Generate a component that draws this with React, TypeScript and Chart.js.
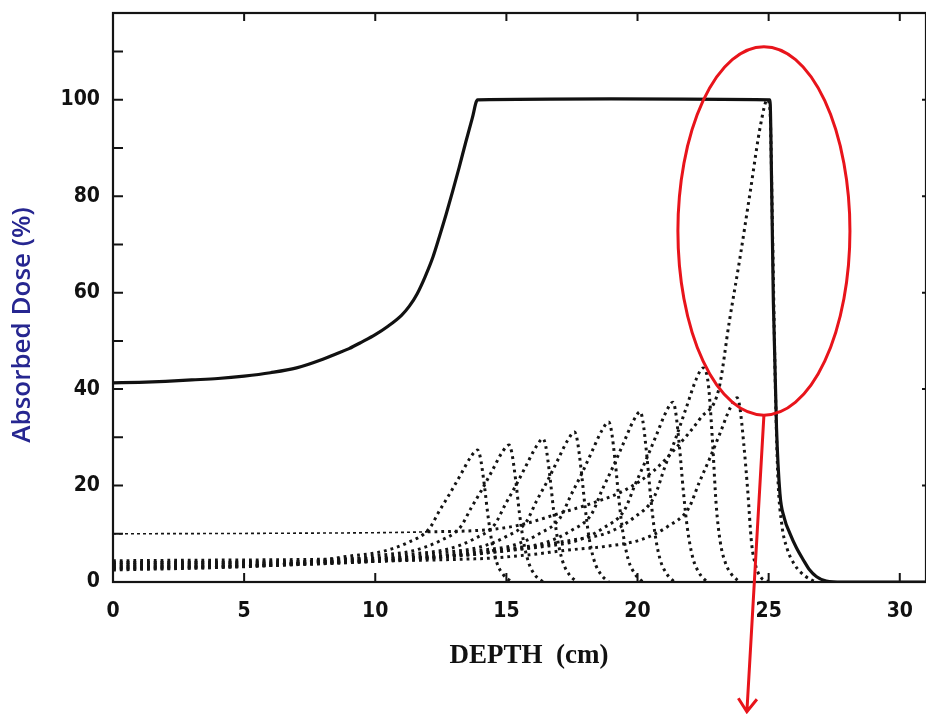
import { useEffect, useRef } from 'react';
import { Chart, registerables } from 'chart.js';

Chart.register(...registerables);

// ---- axis setup ----
const X_MIN = 0;
const X_MAX = 31;
const Y_MIN = 0;
const Y_MAX = 118;
const X_STEP = 5;
const Y_STEP = 20;
const X_TITLE = 'DEPTH  (cm)';
const Y_TITLE = 'Absorbed Dose (%)';

// ---- spread-out Bragg peak (solid line): [depth cm, dose %] ----
const sobp: [number, number][] = [
  [0, 41.3], [1, 41.4], [2, 41.6], [3, 41.9], [4, 42.2], [5, 42.7], [6, 43.4],
  [7, 44.4], [8, 46.2], [8.5, 47.3], [9, 48.4], [9.5, 49.8], [10, 51.3], [10.5, 53.1],
  [11, 55.3], [11.3, 57.2], [11.6, 59.8], [11.9, 63.3], [12.2, 67.4], [12.45, 71.7],
  [12.7, 76.2], [12.95, 81], [13.2, 86], [13.45, 91.2], [13.7, 96.2], [13.9, 100],
  [19, 100.2], [25.05, 100], [25.12, 80], [25.18, 58], [25.3, 32], [25.43, 18.4],
  [25.6, 13.2], [25.81, 10.1], [26.05, 7.2], [26.32, 4.6], [26.55, 2.6], [26.83, 1.1],
  [27.2, 0.2], [27.8, 0], [31, 0],
];

// ---- individual pristine Bragg peaks (dotted) ----
const peak1: [number, number][] = [
  [0, 2.5], [3.9, 3.0], [5.9, 3.5], [7.4, 4.1], [8.9, 5.3], [10.25, 6.3], [11.25, 8.2],
  [12.05, 11.0], [12.45, 14.8], [12.85, 18.4], [13.25, 22.2], [13.65, 26.0], [13.9, 27.4],
  [14.0, 26.0], [14.15, 20.5], [14.3, 13.7], [14.45, 8.2], [14.65, 3.8], [14.9, 1.4], [15.2, 0],
];
const peak2: [number, number][] = [
  [0, 2.7], [5.1, 3.2], [7.1, 3.8], [8.6, 4.5], [10.1, 5.5], [11.45, 6.5], [12.45, 8.5],
  [13.25, 11.4], [13.65, 15.3], [14.05, 19.0], [14.45, 23.0], [14.85, 27.0], [15.1, 28.4],
  [15.2, 27.0], [15.35, 21.3], [15.5, 14.2], [15.65, 8.5], [15.85, 4.0], [16.1, 1.4], [16.4, 0],
];
const peak3: [number, number][] = [
  [0, 2.9], [6.4, 3.5], [8.4, 4.1], [9.9, 4.8], [11.4, 5.8], [12.75, 6.8], [13.75, 8.9],
  [14.55, 11.9], [14.95, 16.0], [15.35, 19.9], [15.75, 24.1], [16.15, 28.2], [16.4, 29.7],
  [16.5, 28.2], [16.65, 22.3], [16.8, 14.9], [16.95, 8.9], [17.15, 4.2], [17.4, 1.5], [17.7, 0],
];
const peak4: [number, number][] = [
  [0, 3.1], [7.6, 3.7], [9.6, 4.3], [11.1, 5.1], [12.6, 6.1], [13.95, 7.2], [14.95, 9.3],
  [15.75, 12.4], [16.15, 16.8], [16.55, 20.8], [16.95, 25.2], [17.35, 29.5], [17.6, 31.1],
  [17.7, 29.5], [17.85, 23.3], [18.0, 15.6], [18.15, 9.3], [18.35, 4.4], [18.6, 1.6], [18.9, 0],
];
const peak5: [number, number][] = [
  [0, 3.3], [8.9, 4.0], [10.9, 4.6], [12.4, 5.4], [13.9, 6.5], [15.25, 7.6], [16.25, 10.0],
  [17.05, 13.3], [17.45, 17.9], [17.85, 22.2], [18.25, 26.9], [18.65, 31.5], [18.9, 33.2],
  [19.0, 31.5], [19.15, 24.9], [19.3, 16.6], [19.45, 10.0], [19.65, 4.6], [19.9, 1.7], [20.2, 0],
];
const peak6: [number, number][] = [
  [0, 3.6], [10.1, 4.3], [12.1, 5.0], [13.6, 5.9], [15.1, 6.9], [16.45, 8.1], [17.45, 10.6],
  [18.25, 14.1], [18.65, 19.1], [19.05, 23.7], [19.45, 28.6], [19.85, 33.5], [20.1, 35.3],
  [20.2, 33.5], [20.35, 26.5], [20.5, 17.7], [20.65, 10.6], [20.85, 4.9], [21.1, 1.8], [21.4, 0],
];
const peak7: [number, number][] = [
  [0, 3.9], [11.35, 4.7], [13.35, 5.5], [14.85, 6.4], [16.35, 7.3], [17.7, 8.6], [18.7, 11.2],
  [19.5, 14.9], [19.9, 20.1], [20.3, 25.0], [20.7, 30.2], [21.1, 35.4], [21.35, 37.3],
  [21.45, 35.4], [21.6, 28.0], [21.75, 18.7], [21.9, 11.2], [22.1, 5.2], [22.35, 1.9], [22.65, 0],
];
const peak8: [number, number][] = [
  [0, 4.4], [12.5, 5.3], [14.5, 6.2], [16.0, 7.3], [17.5, 8.7], [18.85, 10.2], [19.85, 13.3],
  [20.65, 17.8], [21.05, 24.0], [21.45, 29.7], [21.85, 36.0], [22.25, 42.2], [22.5, 44.4],
  [22.7, 41.0], [22.85, 30.0], [23.0, 16.0], [23.15, 8.5], [23.35, 4.0], [23.6, 1.5], [23.9, 0],
];
const peak9: [number, number][] = [
  [0, 4.0], [13.8, 4.8], [15.8, 5.6], [17.3, 6.6], [18.8, 7.4], [20.15, 8.8], [21.15, 11.5],
  [21.95, 15.3], [22.35, 20.6], [22.75, 25.6], [23.15, 30.9], [23.55, 36.3], [23.8, 38.2],
  [23.9, 36.3], [24.05, 28.7], [24.2, 19.1], [24.35, 8.0], [24.5, 3.5], [24.7, 1.0], [25.0, 0],
];
// most distal (deepest, heaviest-weighted) peak
const peak10: [number, number][] = [
  [0, 10.0], [6, 10.1], [12, 10.4], [14.4, 10.9], [15.5, 11.8], [17, 14.2], [18.3, 16.4],
  [19.5, 19.0], [20.6, 23.0], [21.5, 28.0], [22.4, 34.0], [23.1, 40.0], [23.5, 54.0],
  [23.9, 67.0], [24.3, 81.0], [24.7, 95.0], [24.95, 100], [25.05, 98], [25.15, 72],
  [25.25, 42], [25.35, 22], [25.5, 12], [25.7, 7], [26.0, 3.5], [26.4, 1.2], [26.8, 0],
];
const pristinePeaks = [peak1, peak2, peak3, peak4, peak5, peak6, peak7, peak8, peak9];
const THIN_ENTRANCE_END = 12; // the distal peak's entrance plateau is printed finer

// ---- annotation (red ellipse + arrow) in data units ----
const ELLIPSE_CENTER: [number, number] = [24.82, 72.8];
const ELLIPSE_RADII: [number, number] = [3.28, 38.2];
const ARROW_FROM: [number, number] = [24.82, 34.6];
const ARROW_TO: [number, number] = [24.17, -26.9];

const toXY = (pts: [number, number][]) => pts.map(([x, y]) => ({ x, y }));

const TICK_FONT = "'Liberation Sans Narrow', 'DejaVu Sans Condensed', 'Arial Narrow', sans-serif";

const overlayPlugin = {
  id: 'overlay',
  afterDraw(chart: any) {
    const { ctx, chartArea: a, scales } = chart;
    const xs = scales.x;
    const ys = scales.y;
    const px = (v: number) => xs.getPixelForValue(v);
    const py = (v: number) => ys.getPixelForValue(v);
    ctx.save();
    // frame
    ctx.strokeStyle = '#141414';
    ctx.lineWidth = 2.2;
    ctx.strokeRect(a.left, a.top, a.right - a.left, a.bottom - a.top);
    // inward ticks
    ctx.lineWidth = 2;
    ctx.beginPath();
    for (let v = X_STEP; v < X_MAX; v += X_STEP) {
      ctx.moveTo(px(v), a.top);
      ctx.lineTo(px(v), a.top + 8);
      ctx.moveTo(px(v), a.bottom);
      ctx.lineTo(px(v), a.bottom - 9);
    }
    for (let v = 10; v < Y_MAX; v += 10) {
      ctx.moveTo(a.left, py(v));
      ctx.lineTo(a.left + 10, py(v));
    }
    for (let v = Y_STEP; v <= 100; v += Y_STEP) {
      ctx.moveTo(a.right, py(v));
      ctx.lineTo(a.right - 4, py(v));
    }
    ctx.stroke();

    // axis titles
    ctx.fillStyle = '#111';
    ctx.font = "bold 27px 'Liberation Serif', 'DejaVu Serif', serif";
    ctx.textAlign = 'center';
    ctx.textBaseline = 'alphabetic';
    ctx.fillText(X_TITLE, 529, 663);

    ctx.save();
    ctx.translate(23, 325);
    ctx.rotate(-Math.PI / 2);
    ctx.fillStyle = '#262690';
    ctx.font = "600 26px 'Open Sans', 'Noto Sans', sans-serif";
    ctx.textBaseline = 'middle';
    ctx.fillText(Y_TITLE, 0, 0);
    ctx.restore();

    // red annotation
    ctx.strokeStyle = '#e8141b';
    ctx.lineWidth = 3;
    const cx = px(ELLIPSE_CENTER[0]);
    const cy = py(ELLIPSE_CENTER[1]);
    const rx = px(ELLIPSE_CENTER[0] + ELLIPSE_RADII[0]) - cx;
    const ry = cy - py(ELLIPSE_CENTER[1] + ELLIPSE_RADII[1]);
    ctx.beginPath();
    ctx.ellipse(cx, cy, rx, ry, 0, 0, Math.PI * 2);
    ctx.stroke();

    const x0 = px(ARROW_FROM[0]);
    const y0 = py(ARROW_FROM[1]);
    const x1 = px(ARROW_TO[0]);
    const y1 = py(ARROW_TO[1]);
    ctx.beginPath();
    ctx.moveTo(x0, y0);
    ctx.lineTo(x1, y1);
    const ang = Math.atan2(y1 - y0, x1 - x0);
    const head = 16;
    ctx.moveTo(x1 - head * Math.cos(ang - 0.62), y1 - head * Math.sin(ang - 0.62));
    ctx.lineTo(x1, y1);
    ctx.lineTo(x1 - head * Math.cos(ang + 0.62), y1 - head * Math.sin(ang + 0.62));
    ctx.stroke();
    ctx.restore();
  },
};

export default function App() {
  const canvasRef = useRef<HTMLCanvasElement | null>(null);

  useEffect(() => {
    const canvas = canvasRef.current;
    if (!canvas) return;

    const DOT_W = 3;
    const DOT_DASH = [2.8, 4];
    const dotted = {
      borderColor: '#141414',
      borderWidth: DOT_W,
      borderDash: DOT_DASH,
      pointRadius: 0,
      fill: false,
      cubicInterpolationMode: 'monotone' as const,
    };

    const datasets: any[] = [
      ...pristinePeaks.map((p, i) => ({ ...dotted, label: `Peak ${i + 1}`, data: toXY(p) })),
      {
        ...dotted,
        label: 'Peak 10',
        data: toXY(peak10),
        segment: {
          borderWidth: (c: any) => (c.p1.parsed.x <= THIN_ENTRANCE_END ? 1.6 : DOT_W),
          borderDash: (c: any) => (c.p1.parsed.x <= THIN_ENTRANCE_END ? [3, 3] : DOT_DASH),
        },
      },
      {
        label: 'SOBP',
        data: toXY(sobp),
        borderColor: '#111',
        borderWidth: 3.2,
        pointRadius: 0,
        fill: false,
        cubicInterpolationMode: 'monotone',
      },
    ];

    const chart = new Chart(canvas, {
      type: 'line',
      data: { datasets },
      options: {
        responsive: false,
        animation: false,
        devicePixelRatio: 1,
        layout: { padding: { top: 13, right: 0, left: 0, bottom: 0 } },
        plugins: { legend: { display: false }, tooltip: { enabled: false } },
        scales: {
          x: {
            type: 'linear',
            min: X_MIN,
            max: X_MAX,
            grid: { display: false, drawTicks: false },
            border: { display: false },
            ticks: {
              stepSize: X_STEP,
              includeBounds: false,
              autoSkip: false,
              maxRotation: 0,
              padding: 17,
              color: '#111',
              font: { family: TICK_FONT, size: 21, weight: 'bold' },
            },
            afterFit: (s: any) => {
              s.height = 132;
              s.paddingLeft = 0;
              s.paddingRight = 0;
            },
          },
          y: {
            type: 'linear',
            min: Y_MIN,
            max: Y_MAX,
            grid: { display: false, drawTicks: false },
            border: { display: false },
            ticks: {
              stepSize: Y_STEP,
              includeBounds: false,
              autoSkip: false,
              padding: 13,
              color: '#111',
              font: { family: TICK_FONT, size: 21, weight: 'bold' },
            },
            afterFit: (s: any) => {
              s.width = 113;
              s.paddingTop = 0;
              s.paddingBottom = 0;
            },
          },
        },
      } as any,
      plugins: [overlayPlugin],
    });

    return () => chart.destroy();
  }, []);

  return (
    <div style={{ position: 'absolute', left: 0, top: 0, width: 926, height: 714, background: '#fff' }}>
      <canvas ref={canvasRef} width={926} height={714} style={{ display: 'block' }} />
    </div>
  );
}
